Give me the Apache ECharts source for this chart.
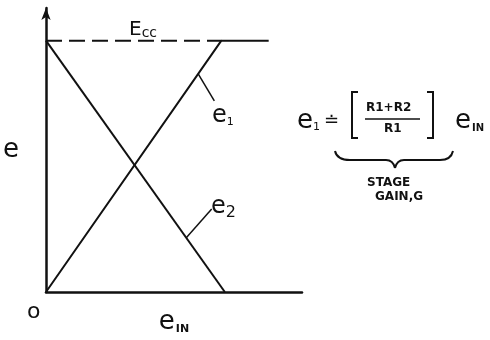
<!DOCTYPE html>
<html>
<head>
<meta charset="utf-8">
<script src="https://cdn.jsdelivr.net/npm/echarts@6/dist/echarts.min.js"></script>
<style>
  html, body { margin: 0; padding: 0; background: #fff; }
  #chart { width: 490px; height: 340px; }
</style>
</head>
<body>
<div id="chart"></div>
<script>
// transfer curve of one amplifier stage, values in arbitrary units
const ecc = 10;
const e1Points = [[0, 0], [10, 10], [12.7, 10]];
const e2Points = [[0, 10], [10.2, 0]];
const eccPoints = [[0, 10], [10, 10]];
const e1Leader = [[8.68, 8.68], [9.6, 7.6]];
const e2Leader = [[8.0, 2.16], [9.45, 3.3]];
const axisRange = { x: 14.6, y: 11.3 };

const ink = "#111";
const font = "DejaVu Sans";

const chart = echarts.init(document.getElementById("chart"));

function leader(pts) {
  return {
    silent: true,
    symbol: "none",
    label: { show: false },
    lineStyle: { color: ink, width: 1.5, type: "solid" },
    data: [[{ coord: pts[0] }, { coord: pts[1] }]]
  };
}

function curve(x1, y1, cx, cy, x2, y2) {
  return { type: "bezierCurve", shape: { x1: x1, y1: y1, cpx1: cx, cpy1: cy, x2: x2, y2: y2 },
    style: { stroke: ink, lineWidth: 2, fill: null } };
}

chart.setOption({
  animation: false,
  backgroundColor: "#fff",
  grid: { left: 43, right: 188, top: 8, bottom: 38 },
  xAxis: {
    type: "value",
    min: 0,
    max: axisRange.x,
    axisLine: { lineStyle: { color: ink, width: 2.5 } },
    axisTick: { show: false },
    axisLabel: { show: false },
    splitLine: { show: false },
    name: "{e|e}{s|IN}",
    nameLocation: "middle",
    nameGap: 17,
    nameTextStyle: {
      rich: {
        e: { fontFamily: font, fontSize: 26, color: ink },
        s: { fontFamily: font, fontSize: 11, fontWeight: "bold", color: ink, padding: [14, 0, 0, 1] }
      }
    }
  },
  yAxis: {
    type: "value",
    min: 0,
    max: axisRange.y,
    axisLine: {
      lineStyle: { color: ink, width: 2.5 },
      symbol: ["none", "arrow"],
      symbolSize: [7, 12]
    },
    axisTick: { show: false },
    axisLabel: { show: false },
    splitLine: { show: false },
    name: "e",
    nameLocation: "middle",
    nameRotate: 0,
    nameGap: 27,
    nameTextStyle: { fontFamily: font, fontSize: 26, color: ink, padding: [0, 0, 14, 0] }
  },
  series: [
    {
      name: "Ecc",
      type: "line",
      data: eccPoints,
      symbol: "none",
      lineStyle: { color: ink, width: 2, type: [16, 7] }
    },
    {
      name: "e1",
      type: "line",
      data: e1Points,
      symbol: "none",
      lineStyle: { color: ink, width: 2 },
      markLine: leader(e1Leader)
    },
    {
      name: "e2",
      type: "line",
      data: e2Points,
      symbol: "none",
      lineStyle: { color: ink, width: 2 },
      markLine: leader(e2Leader)
    }
  ],
  graphic: [
    { type: "text", left: 129, top: 20, style: { text: "{e|E}{s|cc}", rich: {
      e: { fontFamily: font, fontSize: 20, fill: ink },
      s: { fontFamily: font, fontSize: 14, fill: ink, padding: [6, 0, 0, 0] } } } },
    { type: "text", left: 212, top: 104, style: { text: "{e|e}{s|1}", rich: {
      e: { fontFamily: font, fontSize: 24, fill: ink },
      s: { fontFamily: font, fontSize: 11, fill: ink, padding: [12, 0, 0, 0] } } } },
    { type: "text", left: 211, top: 195, style: { text: "{e|e}{s|2}", rich: {
      e: { fontFamily: font, fontSize: 24, fill: ink },
      s: { fontFamily: font, fontSize: 16, fill: ink, padding: [12, 0, 0, 0] } } } },
    { type: "text", left: 27, top: 301, style: { text: "o", fontFamily: font, fontSize: 22, fill: ink } },

    // formula
    { type: "text", left: 297, top: 108, style: { text: "{e|e}{s|1}{d|≐}", rich: {
      e: { fontFamily: font, fontSize: 26, fill: ink },
      s: { fontFamily: font, fontSize: 11, fill: ink, padding: [12, 0, 0, 0] },
      d: { fontFamily: font, fontSize: 18, fill: ink, padding: [0, 0, 0, 4] } } } },
    { type: "polyline", shape: { points: [[358, 92], [352, 92], [352, 138], [358, 138]] },
      style: { stroke: ink, lineWidth: 2, fill: null } },
    { type: "polyline", shape: { points: [[427, 92], [433, 92], [433, 138], [427, 138]] },
      style: { stroke: ink, lineWidth: 2, fill: null } },
    { type: "text", left: 366, top: 102, style: { text: "R1+R2", fontFamily: font, fontSize: 12, fontWeight: "bold", fill: ink } },
    { type: "line", shape: { x1: 365, y1: 119, x2: 420, y2: 119 }, style: { stroke: ink, lineWidth: 1.5 } },
    { type: "text", left: 384, top: 123, style: { text: "R1", fontFamily: font, fontSize: 12, fontWeight: "bold", fill: ink } },
    { type: "text", left: 455, top: 108, style: { text: "{e|e}{s|IN}", rich: {
      e: { fontFamily: font, fontSize: 26, fill: ink },
      s: { fontFamily: font, fontSize: 10, fontWeight: "bold", fill: ink, padding: [14, 0, 0, 1] } } } },

    // brace under the gain term
    curve(335, 151, 337, 160, 350, 160),
    { type: "line", shape: { x1: 350, y1: 160, x2: 386, y2: 160 }, style: { stroke: ink, lineWidth: 2 } },
    curve(386, 160, 393, 160, 395, 168),
    curve(395, 168, 397, 160, 404, 160),
    { type: "line", shape: { x1: 404, y1: 160, x2: 440, y2: 160 }, style: { stroke: ink, lineWidth: 2 } },
    curve(440, 160, 451, 160, 453, 151),

    { type: "text", left: 367, top: 177, style: { text: "STAGE", fontFamily: font, fontSize: 12, fontWeight: "bold", fill: ink } },
    { type: "text", left: 375, top: 191, style: { text: "GAIN,G", fontFamily: font, fontSize: 12, fontWeight: "bold", fill: ink } }
  ]
});
</script>
</body>
</html>
